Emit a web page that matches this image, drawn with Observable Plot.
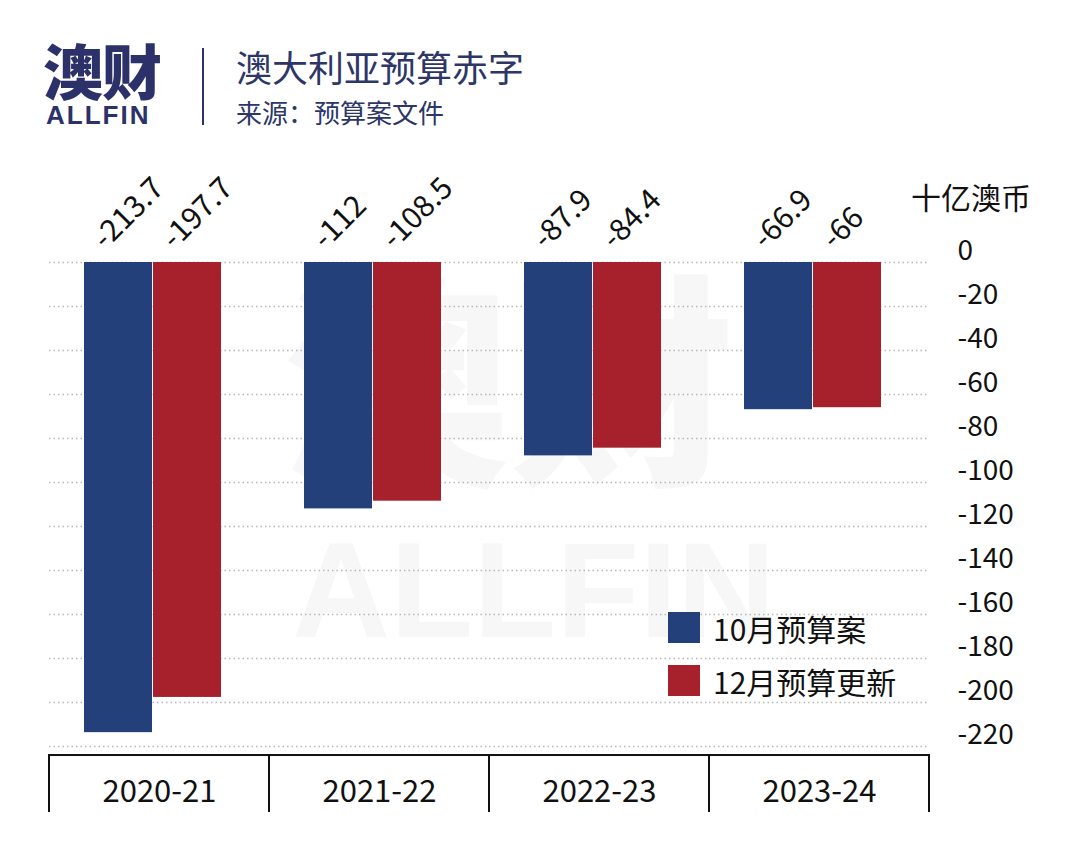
<!DOCTYPE html>
<html>
<head>
<meta charset="utf-8">
<script src="https://cdn.jsdelivr.net/npm/d3@7"></script>
<script src="https://cdn.jsdelivr.net/npm/@observablehq/plot@0.6"></script>
<style>
  html, body { margin: 0; padding: 0; background: #ffffff; }
  body { width: 1080px; height: 861px; position: relative; overflow: hidden; font-family: "Noto Sans CJK SC", "Noto Sans", sans-serif; }
  .abs { position: absolute; white-space: nowrap; line-height: 1; }
  #chart { position: absolute; left: 0; top: 0; }
</style>
</head>
<body>
<div class="abs" style="left:283px; top:268px; font-size:226px; line-height:0.9; font-weight:900; color:#f7f7f8;">澳财</div>
<div class="abs" style="left:292px; top:536px; font-size:136px; line-height:0.8; font-weight:900; color:#f7f7f8; font-family:'Liberation Sans','Roboto',sans-serif;">ALLFIN</div>

<div class="abs" style="left:43px; top:40px; font-size:60px; line-height:0.95; font-weight:900; color:#2c3269; letter-spacing:-1px;">澳财</div>
<div class="abs" style="left:46px; top:104px; font-size:26px; line-height:0.85; font-weight:900; color:#2c3269; letter-spacing:2px; font-family:'Liberation Sans','Roboto',sans-serif;">ALLFIN</div>
<div class="abs" style="left:202px; top:48px; width:2px; height:77px; background:#2c3269;"></div>
<div class="abs" style="left:236px; top:48px; font-size:36px; color:#2c3667;">澳大利亚预算赤字</div>
<div class="abs" style="left:236px; top:99px; font-size:26px; color:#2c3667;">来源：预算案文件</div>

<div id="chart"></div>

<div class="abs" style="left:911px; top:181px; font-size:30px; color:#111;">十亿澳币</div>
<div id="legend"></div>

<script>
const years = ["2020-21", "2021-22", "2022-23", "2023-24"];
const seriesNames = ["10月预算案", "12月预算更新"];
const octBudget = [-213.7, -112, -87.9, -66.9];
const decUpdate = [-197.7, -108.5, -84.4, -66];
const yTicks = [0, -20, -40, -60, -80, -100, -120, -140, -160, -180, -200, -220];
const seriesColors = ["#24407a", "#a6212c"];
const baseLine = [-224.1];

const data = years.flatMap((yr, i) => [
  {year: yr, series: seriesNames[0], value: octBudget[i]},
  {year: yr, series: seriesNames[1], value: decUpdate[i]}
]);

const chart = Plot.plot({
  width: 1080,
  height: 812,
  marginTop: 262,
  marginBottom: 0,
  marginLeft: 48,
  marginRight: 150,
  style: {background: "transparent", fontFamily: "'Noto Sans CJK SC', 'Noto Sans', sans-serif", color: "#111"},
  fx: {domain: years, padding: 0, axis: null},
  x: {domain: seriesNames, paddingInner: 0.0145, paddingOuter: 0.6, align: 0.425, axis: null},
  y: {domain: [-250, 0], axis: null},
  color: {domain: seriesNames, range: seriesColors},
  marks: [
    Plot.gridY(yTicks, {stroke: "#b8b8b8", strokeOpacity: 1, strokeWidth: 1.5, strokeDasharray: "1.5,3"}),
    Plot.axisY(yTicks, {anchor: "right", tickSize: 0, tickPadding: 28, fontSize: 28, dy: -11, label: null, tickFormat: d => String(d), fill: "#111"}),
    Plot.barY(data, {fx: "year", x: "series", y: "value", fill: "series"}),
    Plot.text(data, {fx: "year", x: "series", y: d => 0, text: d => String(d.value), rotate: -45, textAnchor: "start", dx: -20, dy: -19, fontSize: 30, fill: "#111"}),
    Plot.rect(years, {fx: d => d, y1: baseLine[0], y2: -300, stroke: "#111", strokeWidth: 2, fill: "none"}),
    Plot.text(years, {fx: d => d, text: d => d, frameAnchor: "bottom", dy: -11, fontSize: 31, fill: "#111"})
  ]
});
document.getElementById("chart").appendChild(chart);

// legend
const legend = document.getElementById("legend");
seriesNames.forEach((name, i) => {
  const top = 612 + i * 53;
  const sw = document.createElement("div");
  sw.className = "abs";
  sw.style.cssText = `left:668px; top:${top}px; width:32px; height:31px; background:${seriesColors[i]};`;
  legend.appendChild(sw);
  const t = document.createElement("div");
  t.className = "abs";
  t.style.cssText = `left:713px; top:${top + 1}px; font-size:30px; color:#111;`;
  t.textContent = name;
  legend.appendChild(t);
});
</script>
</body>
</html>
